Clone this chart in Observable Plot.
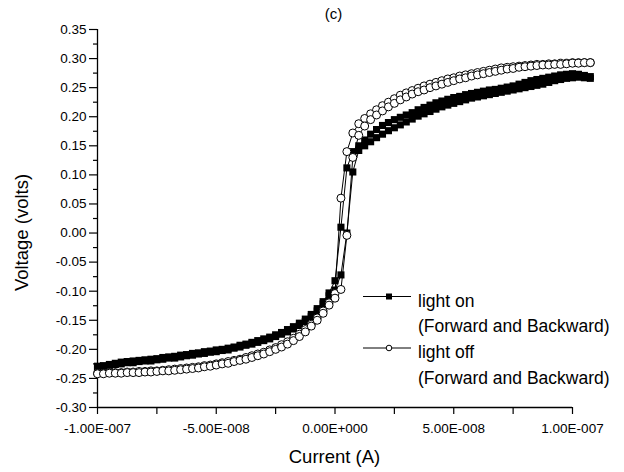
<!DOCTYPE html>
<html><head><meta charset="utf-8">
<script src="https://cdn.jsdelivr.net/npm/d3@7"></script>
<script src="https://cdn.jsdelivr.net/npm/@observablehq/plot@0.6"></script>
<style>body{margin:0;background:#fff;}</style>
</head><body><div id="chart"></div>
<script>
// Current sweep points (nA)
const currentNA = [-100,-97.5,-95,-92.5,-90,-87.5,-85,-82.5,-80,-77.5,-75,-72.5,-70,-67.5,-65,-62.5,-60,-57.5,-55,-52.5,-50,-47.5,-45,-42.5,-40,-37.5,-35,-32.5,-30,-27.5,-25,-22.5,-20,-17.5,-15,-12.5,-10,-7.5,-5,-2.5,0,2.5,5,7.5,10,12.5,15,17.5,20,22.5,25,27.5,30,32.5,35,37.5,40,42.5,45,47.5,50,52.5,55,57.5,60,62.5,65,67.5,70,72.5,75,77.5,80,82.5,85,87.5,90,92.5,95,97.5,100,102.5,105,107.5];

// Voltage (V) — light on
const lightOnForward = [-0.229,-0.228,-0.226,-0.224,-0.222,-0.221,-0.220,-0.219,-0.218,-0.217,-0.216,-0.214,-0.213,-0.212,-0.210,-0.209,-0.207,-0.206,-0.204,-0.203,-0.201,-0.200,-0.198,-0.196,-0.193,-0.191,-0.188,-0.185,-0.182,-0.179,-0.175,-0.171,-0.166,-0.161,-0.155,-0.148,-0.140,-0.130,-0.118,-0.103,-0.082,0.010,0.112,0.140,
  0.150,0.160,0.170,0.178,0.185,0.190,0.195,0.199,0.203,0.207,0.212,0.216,0.220,0.224,0.227,0.230,0.233,0.235,0.238,0.240,0.242,0.244,0.246,0.247,0.249,0.251,0.253,0.256,0.259,0.262,0.264,0.266,0.268,0.270,0.272,0.273,0.274,0.273,0.271,0.269];
const lightOnBackward = [-0.232,-0.230,-0.229,-0.226,-0.225,-0.223,-0.223,-0.221,-0.220,-0.220,-0.218,-0.217,-0.215,-0.215,-0.213,-0.211,-0.210,-0.208,-0.207,-0.205,-0.204,-0.202,-0.201,-0.198,-0.196,-0.193,-0.191,-0.188,-0.185,-0.182,-0.178,-0.174,-0.170,-0.165,-0.159,-0.152,-0.144,-0.134,-0.122,-0.108,-0.098,-0.072,0.000,0.105,
  0.142,0.150,0.157,0.164,0.170,0.176,0.181,0.186,0.191,0.196,0.201,0.205,0.209,0.213,0.217,0.220,0.223,0.226,0.229,0.232,0.234,0.236,0.238,0.240,0.242,0.244,0.246,0.248,0.250,0.252,0.254,0.256,0.259,0.262,0.264,0.266,0.267,0.268,0.267,0.266];

// Voltage (V) — light off
const lightOffForward = [-0.241,-0.241,-0.240,-0.240,-0.240,-0.239,-0.239,-0.238,-0.238,-0.237,-0.237,-0.236,-0.235,-0.234,-0.233,-0.232,-0.231,-0.230,-0.228,-0.227,-0.225,-0.223,-0.221,-0.219,-0.217,-0.214,-0.211,-0.208,-0.205,-0.201,-0.197,-0.192,-0.187,-0.181,-0.174,-0.166,-0.157,-0.146,-0.134,-0.120,-0.104,0.060,0.140,0.172,
  0.188,0.197,0.205,0.212,0.219,0.225,0.231,0.237,0.241,0.245,0.249,0.253,0.256,0.259,0.262,0.265,0.267,0.270,0.272,0.274,0.276,0.278,0.280,0.282,0.284,0.285,0.286,0.287,0.288,0.289,0.290,0.290,0.291,0.291,0.292,0.292,0.293,0.293,0.293,0.293];
const lightOffBackward = [-0.242,-0.242,-0.241,-0.241,-0.241,-0.240,-0.240,-0.240,-0.239,-0.239,-0.238,-0.237,-0.237,-0.236,-0.235,-0.234,-0.233,-0.232,-0.230,-0.229,-0.227,-0.225,-0.224,-0.221,-0.219,-0.217,-0.214,-0.211,-0.208,-0.204,-0.200,-0.196,-0.191,-0.185,-0.178,-0.170,-0.160,-0.150,-0.138,-0.124,-0.112,-0.097,-0.004,0.130,
  0.168,0.184,0.195,0.203,0.210,0.217,0.223,0.229,0.234,0.239,0.243,0.246,0.250,0.253,0.256,0.259,0.262,0.265,0.267,0.270,0.272,0.274,0.276,0.278,0.280,0.282,0.283,0.285,0.286,0.287,0.288,0.289,0.289,0.290,0.290,0.291,0.292,0.292,0.293,0.293];

const xTickValues = [-1e-7, -7.5e-8, -5e-8, -2.5e-8, 0, 2.5e-8, 5e-8, 7.5e-8, 1e-7];
const xTickLabels = ["-1.00E-007", "", "-5.00E-008", "", "0.00E+000", "", "5.00E-008", "", "1.00E-007"];
const yTickValues = [-0.30, -0.25, -0.20, -0.15, -0.10, -0.05, 0.00, 0.05, 0.10, 0.15, 0.20, 0.25, 0.30, 0.35];
const yTickLabels = ["-0.30", "-0.25", "-0.20", "-0.15", "-0.10", "-0.05", "0.00", "0.05", "0.10", "0.15", "0.20", "0.25", "0.30", "0.35"];
const yMinorTicks = [-0.275, -0.225, -0.175, -0.125, -0.075, -0.025, 0.025, 0.075, 0.125, 0.175, 0.225, 0.275, 0.325];
const legendLabels = ["light on", "(Forward and Backward)", "light off", "(Forward and Backward)"];
const titleText = "(c)";
const xLabel = "Current (A)";
const yLabel = "Voltage (volts)";

function rows(series, branch, values) {
  return values.map((v, i) => ({current: currentNA[i] * 1e-9, voltage: v, series, branch}));
}
const onData = [...rows("on", "forward", lightOnForward), ...rows("on", "backward", lightOnBackward)];
const offData = [...rows("off", "forward", lightOffForward), ...rows("off", "backward", lightOffBackward)];

const font = "'Liberation Sans', Arial, sans-serif";

const chart = Plot.plot({
  width: 624, height: 472,
  marginLeft: 97, marginRight: 52, marginTop: 29, marginBottom: 65,
  style: {fontFamily: font, fontSize: "13.5px", color: "black", background: "white", overflow: "visible"},
  x: {domain: [-1e-7, 1e-7]},
  y: {domain: [-0.30, 0.35]},
  marks: [
    Plot.axisX({ticks: xTickValues, tickFormat: d => xTickLabels[xTickValues.indexOf(d)], tickSize: 7, tickPadding: 9, fontSize: 13.5, label: null, strokeWidth: 1.2}),
    Plot.axisY({ticks: yTickValues, tickFormat: d => yTickLabels[yTickValues.indexOf(d)], tickSize: 8, tickPadding: 3, fontSize: 13.5, label: null, strokeWidth: 1.2}),
    Plot.axisY({ticks: yMinorTicks, tickFormat: () => "", tickSize: 4, label: null, strokeWidth: 1.2}),
    Plot.ruleX([-1e-7], {y1: -0.30, y2: 0.35, strokeWidth: 1.3}),
    Plot.ruleY([-0.30], {x1: -1e-7, x2: 1e-7, strokeWidth: 1.3}),
    Plot.line(onData, {x: "current", y: "voltage", z: "branch", stroke: "black", strokeWidth: 1}),
    Plot.dot(onData, {x: "current", y: "voltage", symbol: "square", r: 4, fill: "black", stroke: "none"}),
    Plot.line(offData, {x: "current", y: "voltage", z: "branch", stroke: "black", strokeWidth: 1}),
    Plot.dot(offData, {x: "current", y: "voltage", symbol: "circle", r: 4, fill: "white", stroke: "black", strokeWidth: 1})
  ]
});
document.getElementById("chart").appendChild(chart);

// Titles and legend
const svg = d3.select(chart);
const tg = svg.append("g").attr("font-family", font).attr("fill", "black").attr("text-anchor", "middle");
tg.append("text").attr("x", 333.5).attr("y", 18.5).attr("font-size", 15).text(titleText);
tg.append("text").attr("x", 334.5).attr("y", 462.5).attr("font-size", 18.5).text(xLabel);
tg.append("text").attr("transform", "translate(28,232.5) rotate(-90)").attr("font-size", 18.5).text(yLabel);

const lg = svg.append("g").attr("font-family", font).attr("font-size", 17.5).attr("fill", "black").attr("text-anchor", "start");
const baselines = [306.5, 332, 358, 383.5];
legendLabels.forEach((t, i) => {
  lg.append("text").attr("x", 418).attr("y", baselines[i]).text(t);
});
[[0, "square"], [2, "circle"]].forEach(([i, sym]) => {
  const ly = baselines[i] - 10;
  lg.append("line").attr("x1", 363).attr("x2", 411).attr("y1", ly).attr("y2", ly).attr("stroke", "black").attr("stroke-width", 1);
  if (sym === "square") {
    lg.append("rect").attr("x", 386).attr("y", ly - 3).attr("width", 6).attr("height", 6).attr("fill", "black");
  } else {
    lg.append("circle").attr("cx", 389).attr("cy", ly).attr("r", 2.8).attr("fill", "white").attr("stroke", "black").attr("stroke-width", 1);
  }
});
</script>
</body></html>
